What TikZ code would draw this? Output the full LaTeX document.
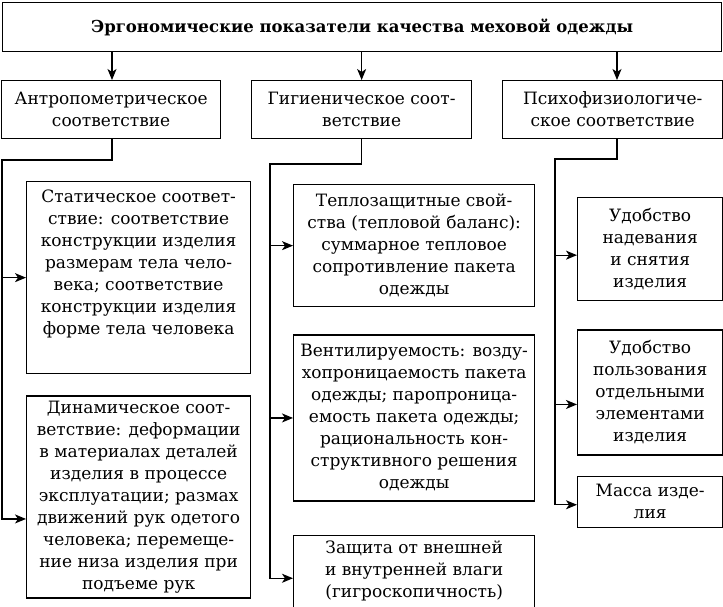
\documentclass[tikz,border=0pt]{standalone}
\usepackage{fontspec}
\setmainfont{DejaVu Serif}
\usetikzlibrary{positioning,arrows.meta}

\tikzset{
   box/.style={draw, line width=1.3pt, align=center, inner sep=0pt,
      anchor=north west, font=\fontsize{17}{22}\selectfont},
   conn/.style={line width=1.3pt, -{Stealth[length=11pt,width=9pt,inset=3pt]}},
}

\begin{document}
\begin{tikzpicture}[x=1pt,y=-1pt]
      \useasboundingbox (0,0) rectangle (723,606);

      \node[box, minimum width=719pt, minimum height=49pt,
         font=\fontsize{16.5}{22}\selectfont\bfseries] (title) at (2,2)
         {Эргономические показатели качества меховой одежды};

      % second level
      \node[box, minimum width=219pt, minimum height=58pt] (antr) at (1,80)
         {Антропометрическое\\соответствие};
      \node[box, minimum width=220pt, minimum height=58pt] (gig) at (251,80)
         {Гигиеническое соот-\\ветствие};
      \node[box, minimum width=220pt, minimum height=58pt] (psych) at (502,80)
         {Психофизиологиче-\\ское соответствие};

      % anthropometric column
      \node[box, minimum width=224pt, minimum height=192pt] (stat) at (26,181)
         {Статическое соответ-\\ствие: соответствие\\конструкции изделия\\
          размерам тела чело-\\века; соответствие\\конструкции изделия\\
          форме тела человека\\[8pt]\mbox{}};
      \node[box, minimum width=224pt, minimum height=202pt, below=21pt of stat] (dyn)
         {Динамическое соот-\\ветствие: деформации\\в материалах деталей\\
          изделия в процессе\\эксплуатации; размах\\движений рук одетого\\
          человека; перемеще-\\ние низа изделия при\\подъеме рук};

      % hygienic column
      \node[box, minimum width=241pt, minimum height=122pt] (tepl) at (293,184)
         {Теплозащитные свой-\\ства (тепловой баланс):\\суммарное тепловое\\
          сопротивление пакета\\одежды};
      \node[box, minimum width=241pt, minimum height=166pt, below=27pt of tepl] (vent)
         {Вентилируемость: возду-\\хопроницаемость пакета\\одежды; паропроница-\\
          емость пакета одежды;\\рациональность кон-\\структивного решения\\одежды};
      \node[box, minimum width=241pt, minimum height=72pt, below=33pt of vent] (zash)
         {Защита от внешней\\и внутренней влаги\\(гигроскопичность)};

      % psychophysiological column
      \node[box, minimum width=145pt, minimum height=103pt] (udob1) at (577,197)
         {Удобство\\надевания\\и снятия\\изделия};
      \node[box, minimum width=145pt, minimum height=125pt, below=28pt of udob1] (udob2)
         {Удобство\\пользования\\отдельными\\элементами\\изделия};
      \node[box, minimum width=145pt, minimum height=51pt, below=20pt of udob2] (massa)
         {Масса изде-\\лия};

      \coordinate (lbend) at (2,160);
      \coordinate (mbend) at (270,164);
      \coordinate (rbend) at (555,159);

      \draw[conn] (title.south -| 112,0) -- (antr.north -| 112,0);
      \draw[conn] (title.south -| gig) -- (gig);
      \draw[conn] (title.south -| 617,0) -- (psych.north -| 617,0);

      \draw[conn] (antr.south -| 112,0) |- (lbend) |- (stat.west);
      \draw[conn] (lbend) |- ([yshift=-22pt]dyn.west);

      \draw[conn] (gig.south) |- (mbend) |- (tepl.west);
      \draw[conn] (mbend) |- (vent.west);
      \draw[conn] (mbend) |- ([yshift=-7pt]zash.west);

      \draw[conn] (psych.south -| 617,0) |- (rbend) |- ([yshift=-6pt]udob1.west);
      \draw[conn] (rbend) |- ([yshift=-12pt]udob2.west);
      \draw[conn] (rbend) |- ([yshift=-3pt]massa.west);
\end{tikzpicture}
\end{document}
